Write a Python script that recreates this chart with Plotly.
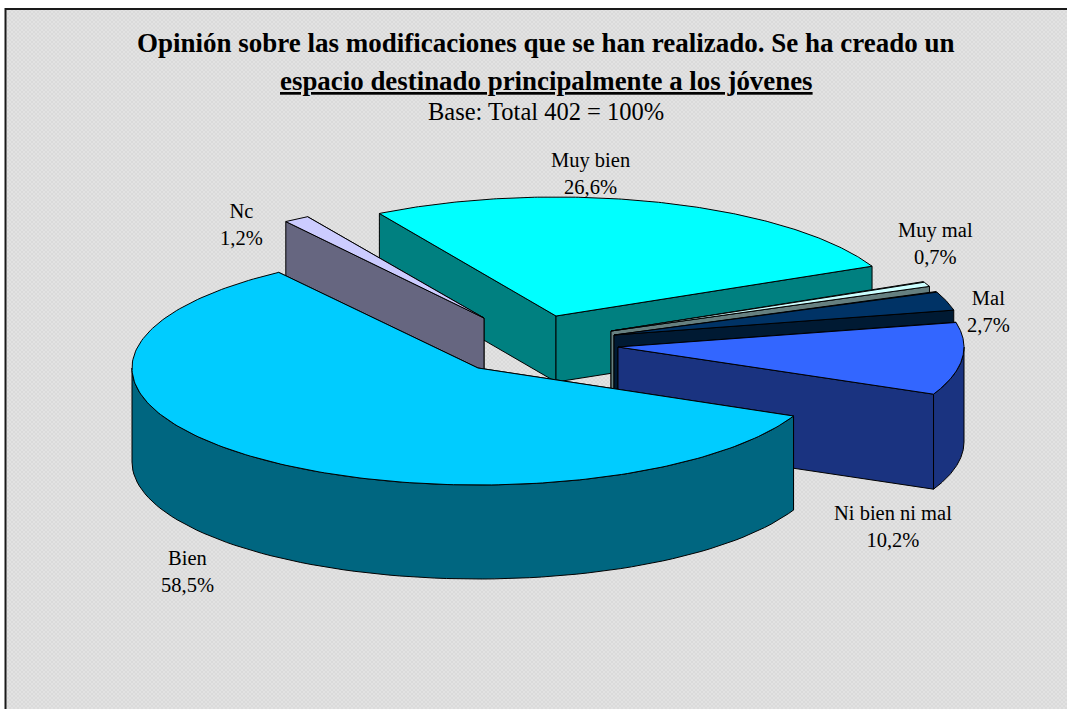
import base64
import struct
import zlib

import numpy as np
import plotly.graph_objects as go

# ---- data -------------------------------------------------------------
categories = ["Muy bien", "Muy mal", "Mal", "Ni bien ni mal", "Bien", "Nc"]
values = [26.6, 0.7, 2.7, 10.2, 58.5, 1.2]
value_labels = ["26,6%", "0,7%", "2,7%", "10,2%", "58,5%", "1,2%"]

title_line1 = "Opinión sobre las modificaciones que se han realizado. Se ha creado un"
title_line2 = "espacio destinado principalmente a los jóvenes"
subtitle = "Base: Total 402 = 100%"

# ---- style / projection per slice ---------------------------------------
top_colors = ["#00FFFF", "#CCFFFF", "#003366", "#3366FF", "#00CCFF", "#CCCCFF"]
wall_colors = ["#008080", "#668080", "#001A33", "#1A3380", "#006680", "#666680"]
centers = [(556, 316), (611, 331), (614, 335), (618, 347), (478, 368), (484, 318)]
radii = [(348, 119), (344, 118), (348, 115), (346, 115), (346, 117), (344, 118)]
depths = [66, 58, 58, 95, 94, 55]
label_pos = [(590, 173), (935, 243), (988, 311.5), (893, 526.5), (187, 571.5), (241, 224.5)]
draw_order = [0, 1, 2, 3, 5, 4]
start_angle = 120.5


def texture(w, h):
    """Fine grey dither of the chart area, as an inline PNG."""
    yy, xx = np.mgrid[0:h, 0:w]
    g = np.where(((xx // 2) + (yy // 2)) % 2 == 0, 0xE2, 0xDA).astype(np.uint8)
    raw = b"".join(b"\x00" + row.tobytes() for row in g)

    def chunk(tag, body):
        return struct.pack(">I", len(body)) + tag + body + struct.pack(">I", zlib.crc32(tag + body))

    png = (b"\x89PNG\r\n\x1a\n" + chunk(b"IHDR", struct.pack(">IIBBBBB", w, h, 8, 0, 0, 0, 0))
           + chunk(b"IDAT", zlib.compress(raw, 9)) + chunk(b"IEND", b""))
    return "data:image/png;base64," + base64.b64encode(png).decode()


edges = start_angle - np.cumsum([0] + values) * 3.6
fig = go.Figure()


def poly(xs, ys, color):
    fig.add_trace(go.Scatter(x=xs, y=ys, mode="lines", fill="toself", fillcolor=color,
                             line=dict(color="#000000", width=1), hoverinfo="skip",
                             showlegend=False))


for i in draw_order:
    a0, a1 = edges[i], edges[i + 1]
    (cx, cy), (rx, ry), d = centers[i], radii[i], depths[i]
    px = lambda t: cx + rx * np.cos(np.radians(t))
    py = lambda t: cy - ry * np.sin(np.radians(t))

    # flat side walls, rear edge first
    for a in sorted([a0, a1], key=py):
        poly([cx, px(a), px(a), cx, cx], [cy, py(a), py(a) + d, cy + d, cy], wall_colors[i])

    # curved outer wall: only the part on the front half of the ellipse
    vis = []
    for k in (-1, 0):
        lo, hi = max(a1, 360 * k - 180), min(a0, 360 * k)
        if hi > lo:
            vis.append((lo, hi))
    for lo, hi in vis:
        t = np.linspace(lo, hi, 80)
        poly(np.r_[px(t), px(t)[::-1], px(t)[0]],
             np.r_[py(t), py(t)[::-1] + d, py(t)[0]], wall_colors[i])

    # top face
    t = np.linspace(a0, a1, 200)
    poly(np.r_[cx, px(t), cx], np.r_[cy, py(t), cy], top_colors[i])

serif = "Liberation Serif"
annotations = [
    dict(x=546, y=43, text="<b>%s</b>" % title_line1, font=dict(size=27)),
    dict(x=546, y=81, text="<b>%s</b>" % title_line2, font=dict(size=26.9, lineposition="under")),
    dict(x=546, y=111, text=subtitle, font=dict(size=24.5)),
]
for c, v, (x, y) in zip(categories, value_labels, label_pos):
    annotations.append(dict(x=x, y=y, text=c + "<br>" + v, font=dict(size=20.5)))
for a in annotations:
    a.update(xref="x", yref="y", showarrow=False, xanchor="center", yanchor="middle", align="center")
    a["font"].update(family=serif, color="#000000")

fig.update_layout(
    width=1067, height=709, margin=dict(l=0, r=0, t=0, b=0, pad=0),
    paper_bgcolor="#FFFFFF", plot_bgcolor="#FFFFFF", showlegend=False,
    xaxis=dict(range=[0, 1067], visible=False, fixedrange=True),
    yaxis=dict(range=[709, 0], visible=False, fixedrange=True),
    annotations=annotations,
    images=[dict(source=texture(1062, 700), xref="x", yref="y", x=5, y=9, sizex=1062, sizey=700,
                 sizing="stretch", xanchor="left", yanchor="top", layer="below")],
    shapes=[dict(type="rect", xref="x", yref="y", x0=5.5, y0=9, x1=1100, y1=750,
                 line=dict(color="#1A1A1A", width=2), layer="above")],
)
fig.write_html("out.html", config=dict(displayModeBar=False),
               post_script="document.body.style.margin='0';")
